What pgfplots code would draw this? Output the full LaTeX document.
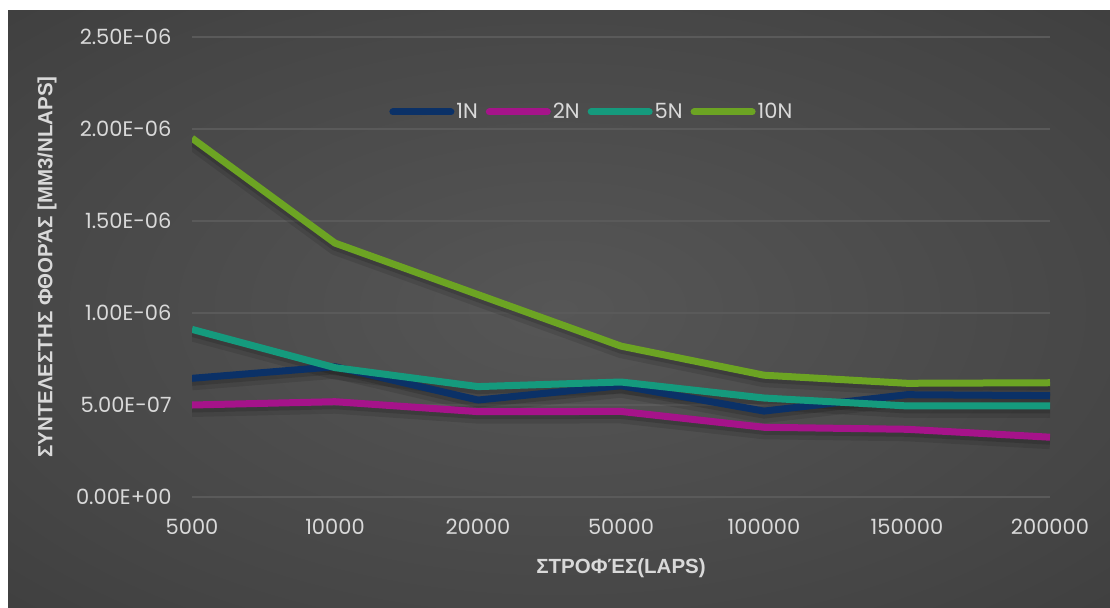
\documentclass[border=0pt]{standalone}
\usepackage{pgfplots}
\usepackage{pgfplotstable}
\pgfplotsset{compat=1.18}
\usepackage{fontspec}
\setmainfont{Poppins}
\newfontfamily\titlefont{Liberation Sans}

\definecolor{txt}{HTML}{D9D9D9}
\definecolor{gridc}{HTML}{5A5A5A}
\definecolor{cOne}{HTML}{0B3167}
\definecolor{cTwo}{HTML}{A6138A}
\definecolor{cFive}{HTML}{159A7D}
\definecolor{cTen}{HTML}{6CA423}
\definecolor{bgA}{HTML}{565656}
\definecolor{bgB}{HTML}{454545}
\definecolor{bgC}{HTML}{262626}
\pgfdeclareradialshading{chartbg}{\pgfpoint{0bp}{0bp}}{color(0bp)=(bgA); color(28bp)=(bgB); color(72bp)=(bgC)}

% wear coefficient per load, by number of laps (category index 0..6)
\pgfplotstableread{
i one     two     five    ten
0 6.45e-7 5.00e-7 9.11e-7 1.95e-6
1 7.08e-7 5.18e-7 7.03e-7 1.38e-6
2 5.27e-7 4.64e-7 6.00e-7 1.10e-6
3 6.05e-7 4.65e-7 6.25e-7 8.20e-7
4 4.67e-7 3.79e-7 5.38e-7 6.62e-7
5 5.56e-7 3.68e-7 4.95e-7 6.18e-7
6 5.51e-7 3.25e-7 4.95e-7 6.21e-7
}\wear

\begin{document}
\begin{tikzpicture}
\fill[white] (0bp,0bp) rectangle (1110bp,-608bp);
\shade[shading=chartbg] (8bp,-10bp) rectangle (1110bp,-608bp);
\begin{axis}[
  at={(192bp,-497bp)}, anchor=south west,
  scale only axis, width=858bp, height=460bp,
  xmin=0, xmax=6, ymin=0, ymax=2.5e-6,
  xtick={0,...,6},
  xticklabels={5000,10000,20000,50000,100000,150000,200000},
  ytick={0,5e-7,1e-6,1.5e-6,2e-6,2.5e-6},
  yticklabels={0.00E+00,5.00E-07,1.00E-06,1.50E-06,2.00E-06,2.50E-06},
  /pgf/number format/assume math mode=true,
  scaled y ticks=false,
  axis line style={draw=none},
  major tick length=0pt,
  ymajorgrids,
  grid style={gridc, line width=1.6bp},
  tick label style={font=\fontsize{21bp}{24bp}\selectfont, txt},
  xticklabel style={yshift=-19bp},
  yticklabel style={xshift=-17bp},
  xlabel={ΣΤΡΟΦΈΣ(LAPS)},
  ylabel={ΣΥΝΤΕΛΕΣΤΗΣ ΦΘΟΡΆΣ [MM3/NLAPS]},
  label style={font=\titlefont\bfseries\fontsize{20.5bp}{23bp}\selectfont, txt},
  xlabel style={at={(axis description cs:0.5,-0.154)}, anchor=center},
  ylabel style={at={(axis description cs:-0.169,0.5)}, anchor=center},
  legend columns=4,
  legend style={at={(0.466,0.837)}, anchor=center, draw=none, fill=none,
    text=txt, font=\fontsize{21bp}{24bp}\selectfont,
    /tikz/every even column/.append style={column sep=6bp}},
  legend image code/.code={\draw[#1, line cap=round] (0bp,0bp) -- (58bp,0bp);},
  every axis plot/.append style={line width=7bp, line join=round},
]
% soft shadows under the series
\foreach \s in {one,two,five,ten}{
  \addplot[forget plot, black, opacity=0.10, line width=14bp,
    transform canvas={yshift=-5bp}] table[x=i, y=\s]{\wear};
  \addplot[forget plot, black, opacity=0.14, line width=9bp,
    transform canvas={yshift=-3bp}] table[x=i, y=\s]{\wear};
}
\addplot[cOne]  table[x=i, y=one]{\wear};
\addplot[cTwo]  table[x=i, y=two]{\wear};
\addplot[cFive] table[x=i, y=five]{\wear};
\addplot[cTen]  table[x=i, y=ten]{\wear};
\legend{1N,2N,5N,10N}
\end{axis}
\pgfresetboundingbox
\useasboundingbox (0bp,0bp) rectangle (1110bp,-608bp);
\end{tikzpicture}
\end{document}
